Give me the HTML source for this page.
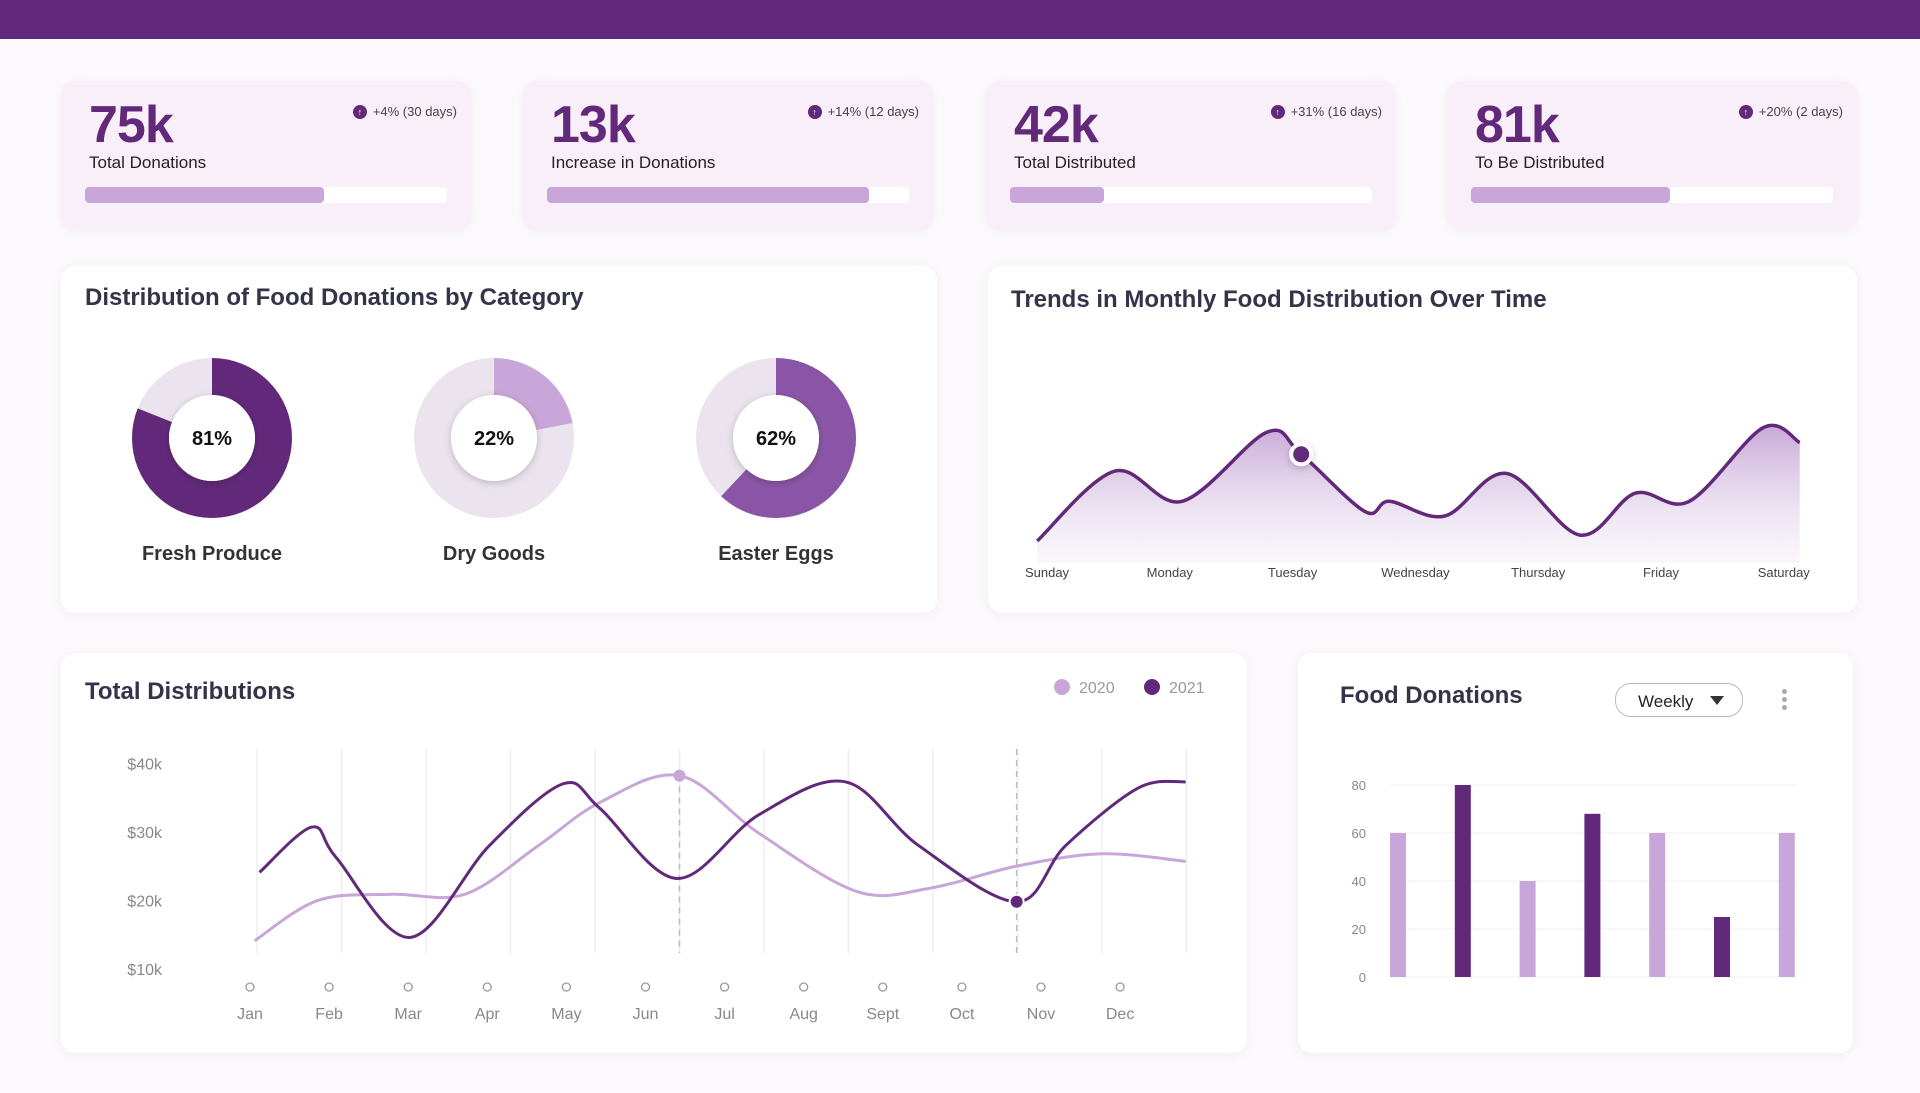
<!DOCTYPE html>
<html><head><meta charset="utf-8"><style>
body{margin:0;width:1920px;height:1093px;background:#fcf9fc;font-family:"Liberation Sans",sans-serif;overflow:hidden;position:relative}
.card{position:absolute;background:#fff;border-radius:14px;box-shadow:0 2px 10px rgba(120,80,140,.08)}
.kpi{position:absolute;background:#f9eff9;border-radius:14px;box-shadow:0 2px 8px rgba(120,80,140,.08);width:410px;height:148px;top:81px}
.kpi .num{position:absolute;left:28px;top:14px;font-size:52px;font-weight:bold;color:#62297a;letter-spacing:-1px}
.kpi .lbl{position:absolute;left:28px;top:72px;font-size:17px;color:#222}
.kpi .track{position:absolute;left:24px;top:106px;width:362px;height:16px;background:#fff;border-radius:4px}
.kpi .fill{height:16px;background:#c9a6d9;border-radius:4px}
.kpi .badge{position:absolute;right:14px;top:23px;font-size:13px;color:#444;display:flex;align-items:center;gap:6px}
.kpi .badge i{width:14px;height:14px;border-radius:50%;background:#62297a;display:inline-block;color:#fff;font-size:9px;text-align:center;line-height:14px;font-style:normal}
.title{position:absolute;font-size:24px;font-weight:bold;color:#33334a}
svg{position:absolute;left:0;top:0}
</style></head><body>
<div style="position:absolute;left:0;top:0;width:1920px;height:39px;background:#62297a"></div>

<div class="kpi" style="left:61px"><div class="num">75k</div><div class="lbl">Total Donations</div><div class="badge"><i>↑</i>+4% (30 days)</div><div class="track"><div class="fill" style="width:66%"></div></div></div>
<div class="kpi" style="left:523px"><div class="num">13k</div><div class="lbl">Increase in Donations</div><div class="badge"><i>↑</i>+14% (12 days)</div><div class="track"><div class="fill" style="width:89%"></div></div></div>
<div class="kpi" style="left:986px"><div class="num">42k</div><div class="lbl">Total Distributed</div><div class="badge"><i>↑</i>+31% (16 days)</div><div class="track"><div class="fill" style="width:26%"></div></div></div>
<div class="kpi" style="left:1447px"><div class="num">81k</div><div class="lbl">To Be Distributed</div><div class="badge"><i>↑</i>+20% (2 days)</div><div class="track"><div class="fill" style="width:55%"></div></div></div>

<div class="card" style="left:61px;top:266px;width:876px;height:347px"></div>
<div class="card" style="left:988px;top:266px;width:869px;height:347px"></div>
<div class="card" style="left:61px;top:653px;width:1186px;height:400px"></div>
<div class="card" style="left:1298px;top:653px;width:555px;height:400px"></div>

<div class="title" style="left:85px;top:284px">Distribution of Food Donations by Category</div>
<div class="title" style="left:1011px;top:286px">Trends in Monthly Food Distribution Over Time</div>
<div class="title" style="left:85px;top:678px">Total Distributions</div>
<div class="title" style="left:1340px;top:682px">Food Donations</div>
<div style="position:absolute;left:1615px;top:683px;width:128px;height:34px;border:1.5px solid #bbb;border-radius:16px;font-size:17px;color:#222;box-sizing:border-box;padding:8px 0 0 22px">Weekly <span style="position:absolute;left:94px;top:12px;border-left:7px solid transparent;border-right:7px solid transparent;border-top:9px solid #333"></span></div>
<div style="position:absolute;left:1782px;top:689px;width:6px;font-size:0">
<div style="width:5px;height:5px;border-radius:50%;background:#aaa;margin-bottom:3px"></div><div style="width:5px;height:5px;border-radius:50%;background:#aaa;margin-bottom:3px"></div><div style="width:5px;height:5px;border-radius:50%;background:#aaa"></div></div>

<svg id="chart" width="1920" height="1093" xmlns="http://www.w3.org/2000/svg">
<defs>
<linearGradient id="areaG" x1="0" y1="0" x2="0" y2="1"><stop offset="0" stop-color="#b58ccb" stop-opacity=".75"/><stop offset="1" stop-color="#efe6f3" stop-opacity=".3"/></linearGradient>
<filter id="sh" x="-50%" y="-50%" width="200%" height="200%"><feDropShadow dx="0" dy="2" stdDeviation="4" flood-color="#000" flood-opacity=".2"/></filter>
</defs>
<g id="donuts"></g><g id="trend"></g><g id="dist"></g><g id="bars"></g>
</svg>
<script>
const NS='http://www.w3.org/2000/svg';
// Donut data
const donutLabels=['Fresh Produce','Dry Goods','Easter Eggs'];
const donutValues=[81,22,62];
const donutColors=['#62297a','#c9a6d9','#8a55a6'];
// Trend data (x in day units, value 0-100)
const trendDays=['Sunday','Monday','Tuesday','Wednesday','Thursday','Friday','Saturday'];
const trendX=[-0.08,0.55,1.1,1.79,2.07,2.59,2.79,3.24,3.74,4.34,4.79,5.23,5.83,6.13];
const trendY=[15,62.5,42,89,74,35,42,32,61,19,47.5,42,92,82];
const trendHighlight=4;
// Total distributions
const months=['Jan','Feb','Mar','Apr','May','Jun','Jul','Aug','Sept','Oct','Nov','Dec'];
const yTicks=[10,20,30,40];
const s2021X=[0.03,0.65,0.94,1.81,2.75,3.62,4.06,4.97,5.94,6.96,7.83,8.99,9.57,10.43,10.99];
const s2021Y=[24.1,30.7,26.2,14.6,28,37,33.4,23.2,32.5,37.3,28,19.8,28,36.4,37.3];
const s2020X=[-0.03,0.72,1.59,2.46,3.33,4.06,5,5.94,7.1,7.97,8.99,10,10.99];
const s2020Y=[14.1,20,20.9,20.9,28,34.3,38.2,29.8,21.3,21.8,25,26.8,25.7];
// Bar chart
const barValues=[60,80,40,68,60,25,60];
const barTicks=[0,20,40,60,80];

function el(tag,attrs,parent){const e=document.createElementNS(NS,tag);for(const k in attrs)e.setAttribute(k,attrs[k]);parent.appendChild(e);return e;}
function txt(x,y,t,attrs,parent){const e=el('text',Object.assign({x:x,y:y},attrs),parent);e.textContent=t;return e;}
function smooth(pts){let d='M'+pts[0][0]+','+pts[0][1];for(let i=0;i<pts.length-1;i++){const p0=pts[i-1]||pts[i],p1=pts[i],p2=pts[i+1],p3=pts[i+2]||p2;const c1x=p1[0]+(p2[0]-p0[0])/6,c1y=p1[1]+(p2[1]-p0[1])/6,c2x=p2[0]-(p3[0]-p1[0])/6,c2y=p2[1]-(p3[1]-p1[1])/6;d+=` C${c1x},${c1y} ${c2x},${c2y} ${p2[0]},${p2[1]}`;}return d;}

// Donuts
const dg=document.getElementById('donuts');
const R=61.5,C=2*Math.PI*R;
donutValues.forEach((v,i)=>{
  const cx=212+i*282,cy=438;
  const bg=el('circle',{cx:cx,cy:cy,r:R,fill:'none',stroke:'#ebe4ee','stroke-width':37},dg);
  
  
  const arc=el('circle',{cx:cx,cy:cy,r:R,fill:'none',stroke:donutColors[i],'stroke-width':37,'stroke-dasharray':(C*v/100)+' '+C,transform:`rotate(-90 ${cx} ${cy})`},dg);
  
  
  el('circle',{cx:cx,cy:cy,r:43,fill:'#fff',filter:'url(#sh)'},dg);
  const t=txt(cx,cy+7,v+'%',{'text-anchor':'middle','font-size':20,'font-weight':'bold',fill:'#111'},dg);
  
  
  const l=txt(cx,cy+122,donutLabels[i],{'text-anchor':'middle','font-size':20,fill:'#333','font-weight':'bold'},dg);
  
  
});

// Trend
const tg=document.getElementById('trend');
const tx=d=>1047+d*122.8, ty=v=>563-v*1.469;
const tp=trendX.map((x,i)=>[tx(x),ty(trendY[i])]);
const tline=smooth(tp);
const area=el('path',{d:tline+` L${tp[tp.length-1][0]},563 L${tp[0][0]},563 Z`,fill:'url(#areaG)'},tg);


const tl=el('path',{d:tline,fill:'none',stroke:'#62297a','stroke-width':3.5},tg);


const hp=tp[trendHighlight];
const hd=el('circle',{cx:hp[0],cy:hp[1],r:10,fill:'#62297a',stroke:'#fff','stroke-width':4,filter:'url(#sh)'},tg);


trendDays.forEach((d,i)=>{const t=txt(tx(i),577,d,{'text-anchor':'middle','font-size':13,fill:'#444'},tg);
  
  });

// Total distributions
const sg=document.getElementById('dist');
const mx=i=>257+i*84.5, my=k=>969-(k-10)*6.857;
months.forEach((m,i)=>{
  const g=el('line',{x1:mx(i),x2:mx(i),y1:749,y2:953,stroke:'#eeeeee','stroke-width':1.5},sg);
  
  
  const lx=250+i*79.1;
  const c=el('circle',{cx:lx,cy:987,r:4,fill:'#fff',stroke:'#999','stroke-width':1.3},sg);
  
  
  const t=txt(lx,1019,m,{'text-anchor':'middle','font-size':16,fill:'#888'},sg);
  
  
});
yTicks.forEach(k=>{const t=txt(162,my(k)+6,'$'+k+'k',{'text-anchor':'end','font-size':16,fill:'#888'},sg);
  
  });
const p20=s2020X.map((x,i)=>[mx(x),my(s2020Y[i])]);
const p21=s2021X.map((x,i)=>[mx(x),my(s2021Y[i])]);
// dashed markers
const dj=p20[6], dn=p21[11];
let dl=el('line',{x1:dj[0],x2:dj[0],y1:dj[1],y2:953,stroke:'#bbb','stroke-dasharray':'6 5','stroke-width':1.5},sg);


dl=el('line',{x1:dn[0],x2:dn[0],y1:749,y2:953,stroke:'#bbb','stroke-dasharray':'6 5','stroke-width':1.5},sg);


const l20=el('path',{d:smooth(p20),fill:'none',stroke:'#c9a6d9','stroke-width':3},sg);


const l21=el('path',{d:smooth(p21),fill:'none',stroke:'#62297a','stroke-width':3},sg);


let pt=el('circle',{cx:dj[0],cy:dj[1],r:6,fill:'#c9a6d9'},sg);


pt=el('circle',{cx:dn[0],cy:dn[1],r:7,fill:'#62297a',stroke:'#fff','stroke-width':2},sg);


// legend
[['2020','#c9a6d9',1062],['2021','#62297a',1152]].forEach(a=>{
  const c=el('circle',{cx:a[2],cy:687,r:8,fill:a[1]},sg);
  
  
  const t=txt(a[2]+17,693,a[0],{'font-size':16,fill:'#999'},sg);
  
  
});

// Bars
const bg2=document.getElementById('bars');
const by=v=>977-v*2.4, bx=i=>1398+i*64.8;
barTicks.forEach(v=>{
  const g=el('line',{x1:1390,x2:1796,y1:by(v),y2:by(v),stroke:'#f2f2f2','stroke-width':1},bg2);
  
  
  const t=txt(1366,by(v)+5,v,{'text-anchor':'end','font-size':13,fill:'#888'},bg2);
  
  
});
barValues.forEach((v,i)=>{
  const r=el('rect',{x:bx(i)-8,y:by(v),width:16,height:977-by(v),fill:i%2?'#62297a':'#c9a6d9'},bg2);
  
  
});
</script>
</body></html>
